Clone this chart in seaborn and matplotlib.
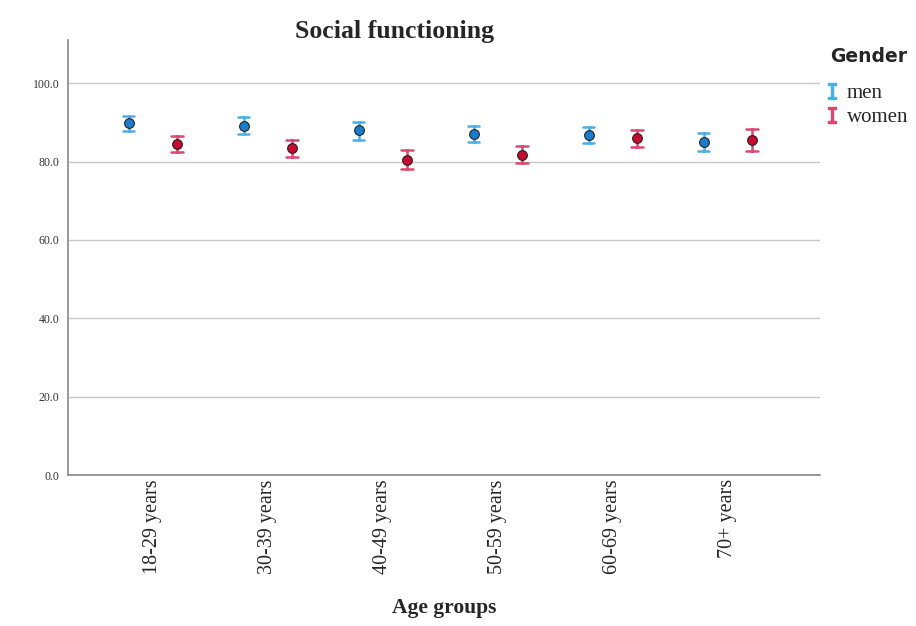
import pandas as pd
import matplotlib
matplotlib.use("Agg")
import matplotlib.pyplot as plt
from matplotlib.lines import Line2D
import seaborn as sns

# values: mean and 95% CI bounds per group
age_groups = ["18-29 years", "30-39 years", "40-49 years", "50-59 years", "60-69 years", "70+ years"]
men_mean = [89.8, 89.0, 88.0, 87.0, 86.7, 85.0]
men_lo = [87.8, 87.0, 85.5, 85.0, 84.7, 82.7]
men_hi = [91.6, 91.3, 90.0, 89.0, 88.8, 87.2]
women_mean = [84.4, 83.4, 80.4, 81.6, 86.0, 85.5]
women_lo = [82.4, 81.1, 78.1, 79.6, 83.7, 82.7]
women_hi = [86.5, 85.5, 82.9, 83.9, 88.0, 88.3]

# long table: lo / mean / hi rows so median + full range gives mean and CI
rows = []
for g, m, lo, hi in zip(age_groups, men_mean, men_lo, men_hi):
    for v in (lo, m, hi):
        rows.append({"age": g, "gender": "men", "value": v})
for g, m, lo, hi in zip(age_groups, women_mean, women_lo, women_hi):
    for v in (lo, m, hi):
        rows.append({"age": g, "gender": "women", "value": v})
df = pd.DataFrame(rows)

sns.set_style("white")
plt.rcParams["font.family"] = ["Liberation Serif", "DejaVu Serif"]
plt.rcParams["mathtext.fontset"] = "dejavuserif"

err_colors = {"men": "#4aaee8", "women": "#dc4872"}
face_colors = {"men": "#1a7ccc", "women": "#c80a30"}

fig = plt.figure(figsize=(9.16, 6.26), dpi=100)
ax = fig.add_axes([0.074, 0.241, 0.821, 0.695])

sns.pointplot(data=df, x="age", y="value", hue="gender", order=age_groups,
              hue_order=["men", "women"], estimator="median", errorbar=("pi", 100),
              dodge=0.42, linestyle="none", palette=err_colors, capsize=0.1,
              err_kws={"linewidth": 1.8}, markers="o", markersize=7,
              markeredgecolor="#222222", markeredgewidth=0.8, ax=ax, legend=False)

# recolor marker faces (lines with markers), caps stay light
for line in ax.lines:
    if line.get_marker() not in (None, "None", ""):
        c = line.get_color()
        key = "men" if matplotlib.colors.same_color(c, err_colors["men"]) else "women"
        line.set_markerfacecolor(face_colors[key])
        line.set_markeredgecolor("#222222")
        line.set_zorder(5)

ax.set_ylim(0, 111)
ax.set_xlim(-0.74, 5.8)
ax.set_yticks([0, 20, 40, 60, 80, 100])
ax.set_yticklabels(["0.0", "20.0", "40.0", "60.0", "80.0", "100.0"], fontsize=8.5, color="#333333")
ax.yaxis.grid(True, color="#c8c8c8", linewidth=1)
ax.set_axisbelow(True)
ax.tick_params(axis="x", labelrotation=90, labelsize=14.5, length=0, pad=3)
ax.tick_params(axis="y", length=0, pad=6)
for s in ["top", "right"]:
    ax.spines[s].set_visible(False)
for s in ["left", "bottom"]:
    ax.spines[s].set_color("#888888")
    ax.spines[s].set_linewidth(1.2)

ax.set_ylabel("")
ax.set_xlabel("Age groups", fontsize=15.5, fontweight="bold", labelpad=17)
ax.set_title("Social functioning", fontsize=18.5, fontweight="bold", x=0.435, y=0.985)

handles = [Line2D([], [], linestyle="none", marker="$\\mathtt{I}$", markersize=11,
                  color=err_colors[k], label=k) for k in ["men", "women"]]
leg = ax.legend(handles=handles, loc="upper left",
                bbox_to_anchor=(0.997, 0.919), frameon=False, fontsize=15,
                handlelength=0.6, handletextpad=0.4, labelspacing=0.22,
                borderaxespad=0)
fig.text(0.906, 0.909, "Gender", family=["DejaVu Sans"], fontweight="bold",
         fontsize=13.5, va="center", ha="left")

fig.savefig("out.png", dpi=100)
